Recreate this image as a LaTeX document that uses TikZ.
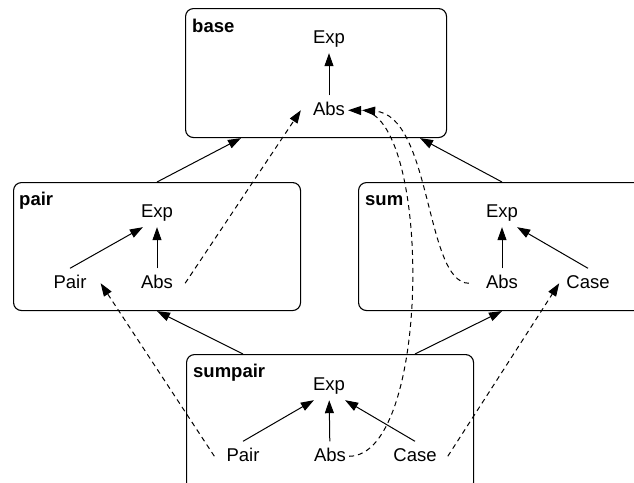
\documentclass[tikz,border=0pt]{standalone}
\usepackage{fontspec}
\setmainfont{Liberation Sans}
\usetikzlibrary{arrows.meta}
\begin{document}
\begin{tikzpicture}[x=1pt,y=-1pt,
  every node/.style={font=\fontsize{18.5}{22}\selectfont},
  box/.style={draw, line width=1.1pt, rounded corners=8pt, inner sep=0pt, anchor=north west},
  lbl/.style={anchor=base west, inner sep=0pt, font=\fontsize{18.5}{22}\selectfont\bfseries},
  term/.style={anchor=base, text height=13.5pt, text depth=4pt, inner xsep=3pt, inner ysep=6pt},
  arr/.style={-{Triangle[length=13pt,width=9pt]}, line width=1pt},
  darr/.style={arr, dash pattern=on 5pt off 4pt}]
\useasboundingbox (0,0) rectangle (634,482);
\clip (0,0) rectangle (634,482);
% boxes
\node[box, minimum width=261pt, minimum height=129pt] (base) at (185,8) {};
\node[box, minimum width=287pt, minimum height=128pt] (pair) at (13,182) {};
\node[box, minimum width=310pt, minimum height=128pt] (sum) at (358,182) {};
\node[box, minimum width=287pt, minimum height=136pt] (sumpair) at (186,354) {};
% box labels
\node[lbl] (baselbl) at (192,32) {base};
\node[lbl] (pairlbl) at (19,205) {pair};
\node[lbl] (sumlbl) at (365,205) {sum};
\node[lbl] (splbl) at (193,377) {sumpair};
% terms
\node[term] (bExp) at (329,43) {Exp};
\node[term] (bAbs) at (329,115) {Abs};
\node[term] (pExp) at (157,217) {Exp};
\node[term] (pPair) at (70,288) {Pair};
\node[term] (pAbs) at (157,288) {Abs};
\node[term] (sExp) at (502,217) {Exp};
\node[term] (sAbs) at (502,288) {Abs};
\node[term] (sCase) at (588,288) {Case};
\node[term] (spExp) at (329,390) {Exp};
\node[term] (spPair) at (243,461) {Pair};
\node[term] (spAbs) at (330,461) {Abs};
\node[term] (spCase) at (415,461) {Case};
% inner arrows
\draw[arr] (bAbs) -- (bExp);
\draw[arr] (pAbs) -- (pExp);
\draw[arr] (pPair.north) -- ([xshift=5pt]pExp.south west);
\draw[arr] (sAbs) -- (sExp);
\draw[arr] (sCase.north) -- ([xshift=-4pt]sExp.south east);
\draw[arr] (spPair.north) -- ([xshift=4pt]spExp.south west);
\draw[arr] (spAbs) -- (spExp);
\draw[arr] (spCase.north) -- ([xshift=-3pt]spExp.south east);
% box arrows
\draw[arr] (pExp |- pair.north) -- ([xshift=56pt]base.south west);
\draw[arr] (sExp |- sum.north) -- ([xshift=235pt]base.south west);
\draw[arr] (spPair |- sumpair.north) -- (pExp |- pair.south);
\draw[arr] (spCase |- sumpair.north) -- (sExp |- sum.south);
% dashed arrows
\draw[darr] ([xshift=9pt]pAbs.east) -- ([xshift=-9pt]bAbs.west);
\draw[darr] ([xshift=-9pt]spPair.west) -- ([xshift=11pt]pPair.east);
\draw[darr] ([xshift=8pt]spCase.east) -- ([xshift=-4pt]sCase.west);
\draw[darr] (spAbs.east) .. controls (432,456) and (432,112) .. (bAbs.east);
\draw[darr] ([xshift=-14pt]sAbs.west) .. controls (425,283) and (432,115) .. ([xshift=14pt]bAbs.east);
\end{tikzpicture}
\end{document}
